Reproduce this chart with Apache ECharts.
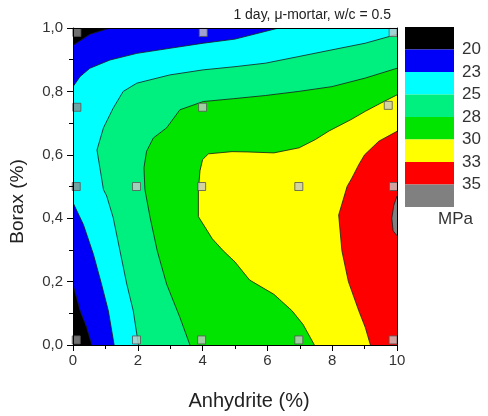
<!DOCTYPE html>
<html><head><meta charset="utf-8">
<script src="https://cdn.jsdelivr.net/npm/echarts@6/dist/echarts.min.js"></script>
<style>html,body{margin:0;padding:0;background:#fff}#c{width:488px;height:416px}</style>
</head><body><div id="c"></div>
<script>
// ---- data ----
const titleText = '1 day, \u03bc-mortar, w/c = 0.5';
const levelLabels = ['20', '23', '25', '28', '30', '33', '35'];
const unitLabel = 'MPa';

// contour lines [anhydrite %, borax %]
const contour20Top = [[1.14, 1.0], [0.52, 0.98], [0, 0.945]];
const contour20Bottom = [[0, 0.19], [0.22, 0.108], [0.42, 0.056], [0.58, 0]];
const contour22Top = [[0, 0.815], [0.22, 0.847], [0.52, 0.873], [1.14, 0.899], [1.97, 0.92], [2.99, 0.936], [4.02, 0.952], [5.0, 0.965], [6.35, 1.0]];
const contour22Bottom = [[0, 0.449], [0.32, 0.38], [0.63, 0.286], [0.88, 0.192], [1.09, 0.108], [1.27, 0]];
const contour25 = [[10, 0.98], [9.02, 0.952], [7.99, 0.931], [6.97, 0.91], [5.94, 0.889], [5.0, 0.878], [4.02, 0.868], [2.99, 0.852], [1.97, 0.826], [1.55, 0.8], [1.24, 0.747], [0.94, 0.685], [0.74, 0.615], [0.83, 0.559], [0.94, 0.49], [1.04, 0.47], [1.24, 0.402], [1.45, 0.297], [1.66, 0.192], [1.86, 0.108], [2.02, 0]];
const contour27 = [[10, 0.873], [9.02, 0.842], [7.99, 0.815], [6.97, 0.8], [5.94, 0.787], [4.95, 0.777], [4.02, 0.768], [3.3, 0.742], [2.89, 0.685], [2.48, 0.653], [2.27, 0.611], [2.19, 0.559], [2.22, 0.49], [2.38, 0.402], [2.6, 0.297], [2.89, 0.192], [3.3, 0.087], [3.61, 0]];
const contour30 = [[10, 0.789], [9.5, 0.763], [9.02, 0.737], [8.58, 0.711], [7.9, 0.675], [7.48, 0.648], [6.98, 0.622], [6.2, 0.606], [5.4, 0.609], [4.91, 0.61], [4.18, 0.603], [4.0, 0.585], [3.92, 0.55], [3.87, 0.49], [3.87, 0.405], [4.3, 0.335], [4.64, 0.297], [5.0, 0.262], [5.45, 0.205], [6.2, 0.16], [6.76, 0.108], [7.1, 0.065], [7.45, 0]];
const contour32 = [[10, 0.674], [9.44, 0.643], [9.0, 0.6], [8.82, 0.569], [8.61, 0.527], [8.46, 0.5], [8.2, 0.41], [8.3, 0.297], [8.5, 0.2], [8.82, 0.108], [9.02, 0.056], [9.18, 0]];
const contour35 = [[10, 0.47], [9.9, 0.44], [9.84, 0.40], [9.88, 0.36], [10, 0.345]];

// measured sample points (grey squares)
const samplesX = [0.1, 1.96, 3.97, 6.97, 9.88, 0.1, 1.96, 3.97, 6.97, 9.89, 0.12, 4.0, 9.73, 0.12, 4.02, 9.88];
const samplesY = [0.016, 0.016, 0.016, 0.016, 0.016, 0.5, 0.5, 0.5, 0.5, 0.5, 0.75, 0.75, 0.756, 0.986, 0.986, 0.986];

// ---- styles ----
const bandColors = ['#000000', '#0000f8', '#00ffff', '#00f080', '#00e400', '#ffff00', '#ff0000', '#808080'];
const FONT = 'Liberation Sans, Arial, sans-serif';
const rev = a => a.slice().reverse();

const regions = [
  [[0, 0], [10, 0], [10, 1], [0, 1]],
  [...rev(contour20Top), [10, 1], [10, 0], ...rev(contour20Bottom)],
  [...contour22Top, [10, 1], [10, 0], ...rev(contour22Bottom)],
  [...contour25, [10, 0]],
  [...contour27, [10, 0]],
  [...contour30, [10, 0]],
  [...contour32, [10, 0]],
  contour35
];
const lines = [contour20Top, contour20Bottom, contour22Top, contour22Bottom, contour25, contour27, contour30, contour32, contour35];

const series = regions.map((poly, i) => ({
  type: 'custom', coordinateSystem: 'cartesian2d', xAxisIndex: 0, yAxisIndex: 0,
  data: [[0, 0]], silent: true, clip: true, z: 1,
  renderItem: (p, api) => ({
    type: 'polygon',
    shape: { points: poly.map(pt => api.coord(pt)) },
    style: { fill: bandColors[i], stroke: null }
  })
}));
series.push({
  type: 'custom', coordinateSystem: 'cartesian2d', xAxisIndex: 0, yAxisIndex: 0,
  data: [[0, 0]], silent: true, clip: true, z: 2,
  renderItem: (p, api) => ({
    type: 'group',
    children: lines.map(l => ({
      type: 'polyline',
      shape: { points: l.map(pt => api.coord(pt)) },
      style: { stroke: '#1a1a1a', lineWidth: 0.8, fill: null }
    }))
  })
});
series.push({
  type: 'scatter', xAxisIndex: 0, yAxisIndex: 0, z: 3, silent: true,
  symbol: 'rect', symbolSize: 8,
  data: samplesX.map((x, i) => ({
    value: [x, samplesY[i]],
    itemStyle: { color: x < 0.5 ? '#8c8c8c' : '#c8c8c8', borderColor: '#555', borderWidth: 1 }
  }))
});
// colour bar
series.push({
  type: 'custom', coordinateSystem: 'cartesian2d', xAxisIndex: 1, yAxisIndex: 1,
  data: bandColors.map((c, i) => [0, i]), silent: true,
  renderItem: (p, api) => {
    const i = api.value(1);
    const a = api.coord([0, i]);
    const b = api.coord([1, i + 1]);
    return {
      type: 'rect',
      shape: { x: a[0], y: Math.min(a[1], b[1]), width: b[0] - a[0], height: Math.abs(b[1] - a[1]) },
      style: { fill: bandColors[i] }
    };
  }
});

const chart = echarts.init(document.getElementById('c'), null, { renderer: 'canvas' });
chart.setOption({
  animation: false,
  backgroundColor: '#fff',
  textStyle: { fontFamily: FONT },
  title: {
    text: titleText, right: 92, top: 3,
    textStyle: { fontSize: 14, fontWeight: 'normal', color: '#222', fontFamily: FONT }
  },
  grid: [
    { left: 73, top: 28, width: 324, height: 318 },
    { left: 405, top: 27, width: 49, height: 180 }
  ],
  xAxis: [
    {
      type: 'value', gridIndex: 0, min: 0, max: 10, interval: 2, z: 10,
      name: 'Anhydrite (%)', nameLocation: 'middle', nameGap: 46,
      nameTextStyle: { fontSize: 20, color: '#222', fontFamily: FONT, padding: [0, 0, 0, 28] },
      axisLine: { show: true, lineStyle: { color: '#000', width: 1 } },
      axisTick: { show: true, inside: false, length: 6, lineStyle: { color: '#000' } },
      minorTick: { show: true, splitNumber: 2, length: 4, lineStyle: { color: '#000' } },
      splitLine: { show: false },
      axisLabel: { fontSize: 15, color: '#333', margin: 8, fontFamily: FONT }
    },
    {
      type: 'value', gridIndex: 1, min: 0, max: 1, show: false
    },
    {
      type: 'value', gridIndex: 0, min: 0, max: 10, position: 'top', z: 10,
      axisLine: { show: true, onZero: false, lineStyle: { color: '#000', width: 1 } },
      axisTick: { show: false }, axisLabel: { show: false }, splitLine: { show: false }
    }
  ],
  yAxis: [
    {
      type: 'value', gridIndex: 0, min: 0, max: 1, interval: 0.2, z: 10,
      name: 'Borax (%)', nameLocation: 'middle', nameGap: 46, nameRotate: 90,
      nameTextStyle: { fontSize: 19, color: '#222', fontFamily: FONT, padding: [0, 30, 0, 0] },
      axisLine: { show: true, lineStyle: { color: '#000', width: 1 } },
      axisTick: { show: true, inside: false, length: 6, lineStyle: { color: '#000' } },
      minorTick: { show: true, splitNumber: 2, length: 4, lineStyle: { color: '#000' } },
      splitLine: { show: false },
      axisLabel: { fontSize: 15, color: '#333', margin: 10, fontFamily: FONT,
        formatter: v => v.toFixed(1).replace('.', ',') }
    },
    {
      type: 'value', gridIndex: 1, min: 0, max: 8, interval: 1, inverse: true, position: 'right',
      axisLine: { show: false }, axisTick: { show: false }, splitLine: { show: false },
      axisLabel: { fontSize: 17, color: '#333', margin: 8, fontFamily: FONT,
        formatter: v => (v >= 1 && v <= 7) ? levelLabels[v - 1] : '' }
    },
    {
      type: 'value', gridIndex: 0, min: 0, max: 1, position: 'right', z: 10,
      axisLine: { show: true, onZero: false, lineStyle: { color: '#000', width: 1 } },
      axisTick: { show: false }, axisLabel: { show: false }, splitLine: { show: false }
    }
  ],
  graphic: [
    { type: 'text', left: 438, top: 211, style: { text: unitLabel, fontSize: 17, fill: '#333', fontFamily: FONT } }
  ],
  series: series
});
</script></body></html>
